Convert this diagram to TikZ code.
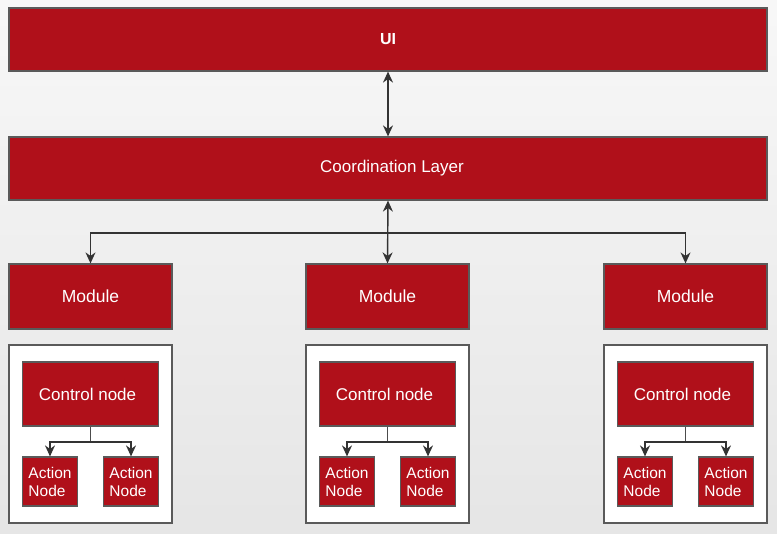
\documentclass[tikz,border=0pt]{standalone}
\usepackage{fontspec}
\setmainfont{Liberation Sans}
\usetikzlibrary{arrows.meta}
\definecolor{red1}{HTML}{B0101A}
\definecolor{bord}{HTML}{5A5A5A}
\begin{document}
\begin{tikzpicture}[x=1pt,y=-1pt,
  box/.style={draw=bord,line width=1.2pt,fill=red1,text=white,inner sep=0pt},
  cont/.style={draw=bord,line width=1.2pt,fill=white,inner sep=0pt},
  arr/.style={line width=1.4pt,draw=black!80,-{Stealth[length=11pt,width=10pt]}},
  darr/.style={line width=1.4pt,draw=black!80,{Stealth[length=11pt,width=10pt]}-{Stealth[length=11pt,width=10pt]}},
  ln/.style={line width=1.4pt,draw=black!70}]
\shade[top color=white!97!black,bottom color=white!90!black,use as bounding box] (0,0) rectangle (777,534);
\node[box,minimum width=758,minimum height=63,font=\fontsize{16}{18}\selectfont\bfseries] (ui) at (388,39.5) {UI};
\node[box,minimum width=758,minimum height=63] (co) at (388,168.5) {};
\node[text=white,font=\fontsize{17}{19}\selectfont] (colbl) at (392,168.5) {Coordination Layer};
\draw[darr] (ui.south) -- (co.north);
\foreach \n/\x in {a/90.5,b/387.5,c/685.5}{
  \node[box,minimum width=163,minimum height=65,font=\fontsize{17.5}{20}\selectfont] (m\n) at (\x,296.5) {Module};
  \node[cont,minimum width=163,minimum height=178] (k\n) at (\x,434) {};
  \node[box,minimum width=136,minimum height=64,font=\fontsize{17}{20}\selectfont] (c\n) at (\x,394) {\hspace{-6pt}Control node};
  \node[box,minimum width=55,minimum height=49,align=left,font=\fontsize{15.5}{18}\selectfont] (l\n) at (\x-40.5,481.5) {Action\\Node};
  \node[box,minimum width=55,minimum height=49,align=left,font=\fontsize{15.5}{18}\selectfont] (r\n) at (\x+40.5,481.5) {Action\\Node};
  \coordinate (j\n) at (\x,442);
  \draw[ln] (c\n.south) -- (j\n);
  \draw[arr] (j\n) -| (l\n.north);
  \draw[arr] (j\n) -| (r\n.north);
}
\coordinate (h) at (388,233);
\draw[darr] (co.south) -- (mb.north);
\draw[arr] (h) -| (ma.north);
\draw[arr] (h) -| (mc.north);
\end{tikzpicture}
\end{document}
